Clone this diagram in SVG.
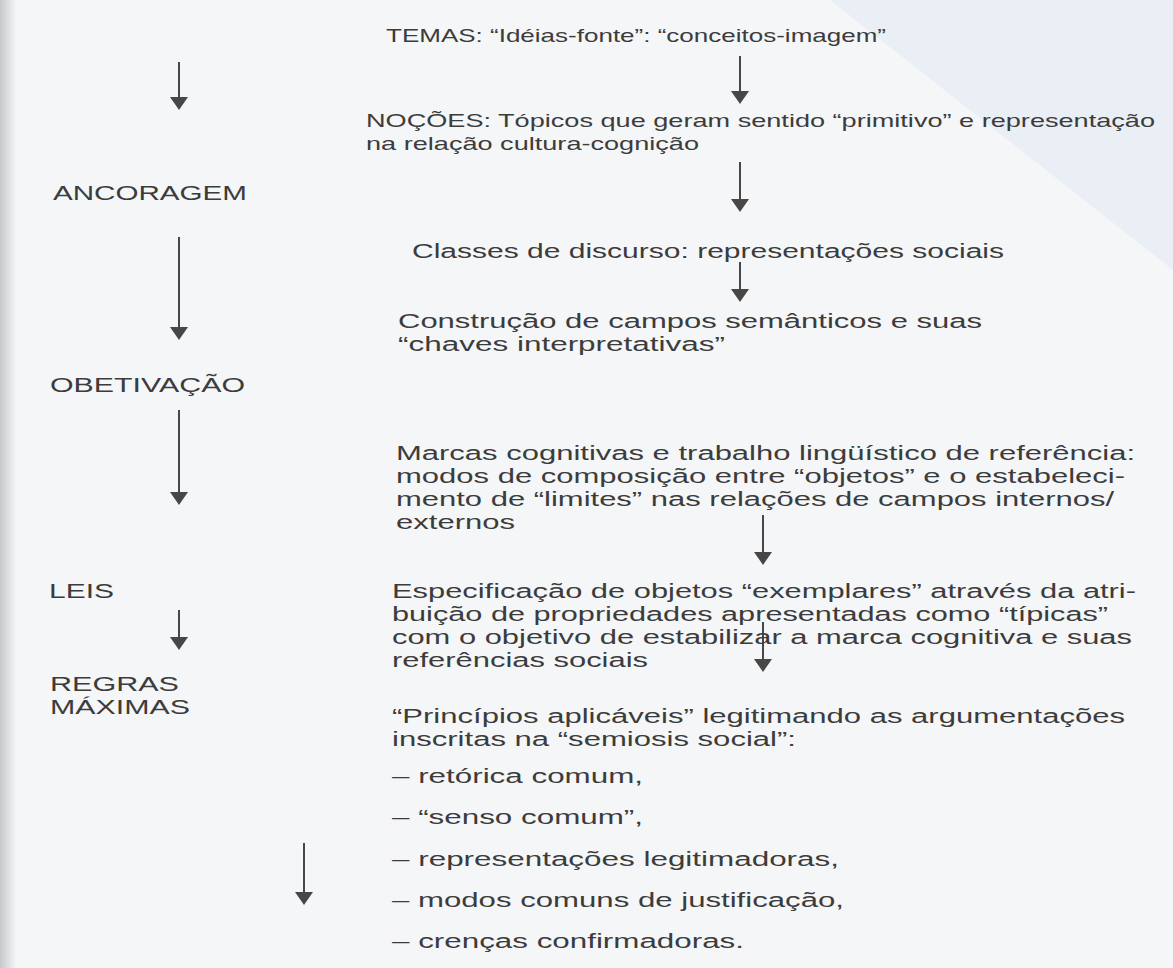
<svg xmlns="http://www.w3.org/2000/svg" width="1173" height="968" viewBox="0 0 1173 968">
<style>
.t{font-family:"Liberation Sans",Arial,sans-serif;font-size:20px;fill:#3c3c3c}
.s{font-size:18.5px}
.c{stroke:#474747;stroke-width:2;fill:none}
</style>
<defs>
<linearGradient id="edge" x1="0" y1="0" x2="1" y2="0">
<stop offset="0" stop-color="#c6c8cb"/>
<stop offset="1" stop-color="#f3f5f7"/>
</linearGradient>
<marker id="ah" viewBox="0 0 13 18" markerWidth="13" markerHeight="18" refX="2" refY="9" orient="auto" markerUnits="userSpaceOnUse">
<path d="M0,0 L13,9 L0,18 z" fill="#474747"/>
</marker>
</defs>
<rect width="1173" height="968" fill="#f4f6f8"/>
<rect width="16" height="968" fill="url(#edge)"/>
<polygon points="830,0 1173,0 1173,270" fill="#e6edf5" opacity="0.7"/>

<g id="connectors">
<line class="c" x1="179" y1="62" x2="179" y2="99" marker-end="url(#ah)"/>
<line class="c" x1="740" y1="56" x2="740" y2="93" marker-end="url(#ah)"/>
<line class="c" x1="740" y1="162" x2="740" y2="201" marker-end="url(#ah)"/>
<line class="c" x1="179" y1="237" x2="179" y2="329" marker-end="url(#ah)"/>
<line class="c" x1="740" y1="262" x2="740" y2="291" marker-end="url(#ah)"/>
<line class="c" x1="179" y1="410" x2="179" y2="494" marker-end="url(#ah)"/>
<line class="c" x1="763" y1="515" x2="763" y2="554" marker-end="url(#ah)"/>
<line class="c" x1="179" y1="610" x2="179" y2="639" marker-end="url(#ah)"/>
<line class="c" x1="763" y1="622" x2="763" y2="661" marker-end="url(#ah)"/>
<line class="c" x1="304" y1="843" x2="304" y2="894" marker-end="url(#ah)"/>
</g>

<g id="temas"><text class="t s" x="386" y="42" textLength="500" lengthAdjust="spacingAndGlyphs">TEMAS: “Idéias-fonte”: “conceitos-imagem”</text></g>
<g id="nocoes">
<text class="t s" x="366" y="127" textLength="789" lengthAdjust="spacingAndGlyphs">NOÇÕES: Tópicos que geram sentido “primitivo” e representação</text>
<text class="t s" x="366" y="150" textLength="333" lengthAdjust="spacingAndGlyphs">na relação cultura-cognição</text>
</g>
<g id="ancoragem"><text class="t" x="53" y="200" textLength="194" lengthAdjust="spacingAndGlyphs">ANCORAGEM</text></g>
<g id="classes"><text class="t" x="412" y="258" textLength="592" lengthAdjust="spacingAndGlyphs">Classes de discurso: representações sociais</text></g>
<g id="construcao">
<text class="t" x="398" y="328" textLength="584" lengthAdjust="spacingAndGlyphs">Construção de campos semânticos e suas</text>
<text class="t" x="398" y="351" textLength="327" lengthAdjust="spacingAndGlyphs">“chaves interpretativas”</text>
</g>
<g id="obetivacao"><text class="t" x="50" y="392" textLength="195" lengthAdjust="spacingAndGlyphs">OBETIVAÇÃO</text></g>
<g id="marcas">
<text class="t" x="396" y="460" textLength="739" lengthAdjust="spacingAndGlyphs">Marcas cognitivas e trabalho lingüístico de referência:</text>
<text class="t" x="396" y="483" textLength="729" lengthAdjust="spacingAndGlyphs">modos de composição entre “objetos” e o estabeleci-</text>
<text class="t" x="396" y="506" textLength="718" lengthAdjust="spacingAndGlyphs">mento de “limites” nas relações de campos internos/</text>
<text class="t" x="396" y="529" textLength="119" lengthAdjust="spacingAndGlyphs">externos</text>
</g>
<g id="leis"><text class="t" x="49" y="598" textLength="65" lengthAdjust="spacingAndGlyphs">LEIS</text></g>
<g id="especificacao">
<text class="t" x="392" y="598" textLength="744" lengthAdjust="spacingAndGlyphs">Especificação de objetos “exemplares” através da atri-</text>
<text class="t" x="392" y="621" textLength="716" lengthAdjust="spacingAndGlyphs">buição de propriedades apresentadas como “típicas”</text>
<text class="t" x="392" y="644" textLength="740" lengthAdjust="spacingAndGlyphs">com o objetivo de estabilizar a marca cognitiva e suas</text>
<text class="t" x="392" y="667" textLength="256" lengthAdjust="spacingAndGlyphs">referências sociais</text>
</g>
<g id="regras">
<text class="t" x="50" y="691" textLength="129" lengthAdjust="spacingAndGlyphs">REGRAS</text>
<text class="t" x="50" y="714" textLength="140" lengthAdjust="spacingAndGlyphs">MÁXIMAS</text>
</g>
<g id="principios">
<text class="t" x="392" y="723" textLength="733" lengthAdjust="spacingAndGlyphs">“Princípios aplicáveis” legitimando as argumentações</text>
<text class="t" x="392" y="746" textLength="404" lengthAdjust="spacingAndGlyphs">inscritas na “semiosis social”:</text>
<text class="t" x="392" y="783" textLength="251" lengthAdjust="spacingAndGlyphs">– retórica comum,</text>
<text class="t" x="392" y="824" textLength="251" lengthAdjust="spacingAndGlyphs">– “senso comum”,</text>
<text class="t" x="392" y="866" textLength="447" lengthAdjust="spacingAndGlyphs">– representações legitimadoras,</text>
<text class="t" x="392" y="907" textLength="452" lengthAdjust="spacingAndGlyphs">– modos comuns de justificação,</text>
<text class="t" x="392" y="948" textLength="352" lengthAdjust="spacingAndGlyphs">– crenças confirmadoras.</text>
</g>
</svg>
